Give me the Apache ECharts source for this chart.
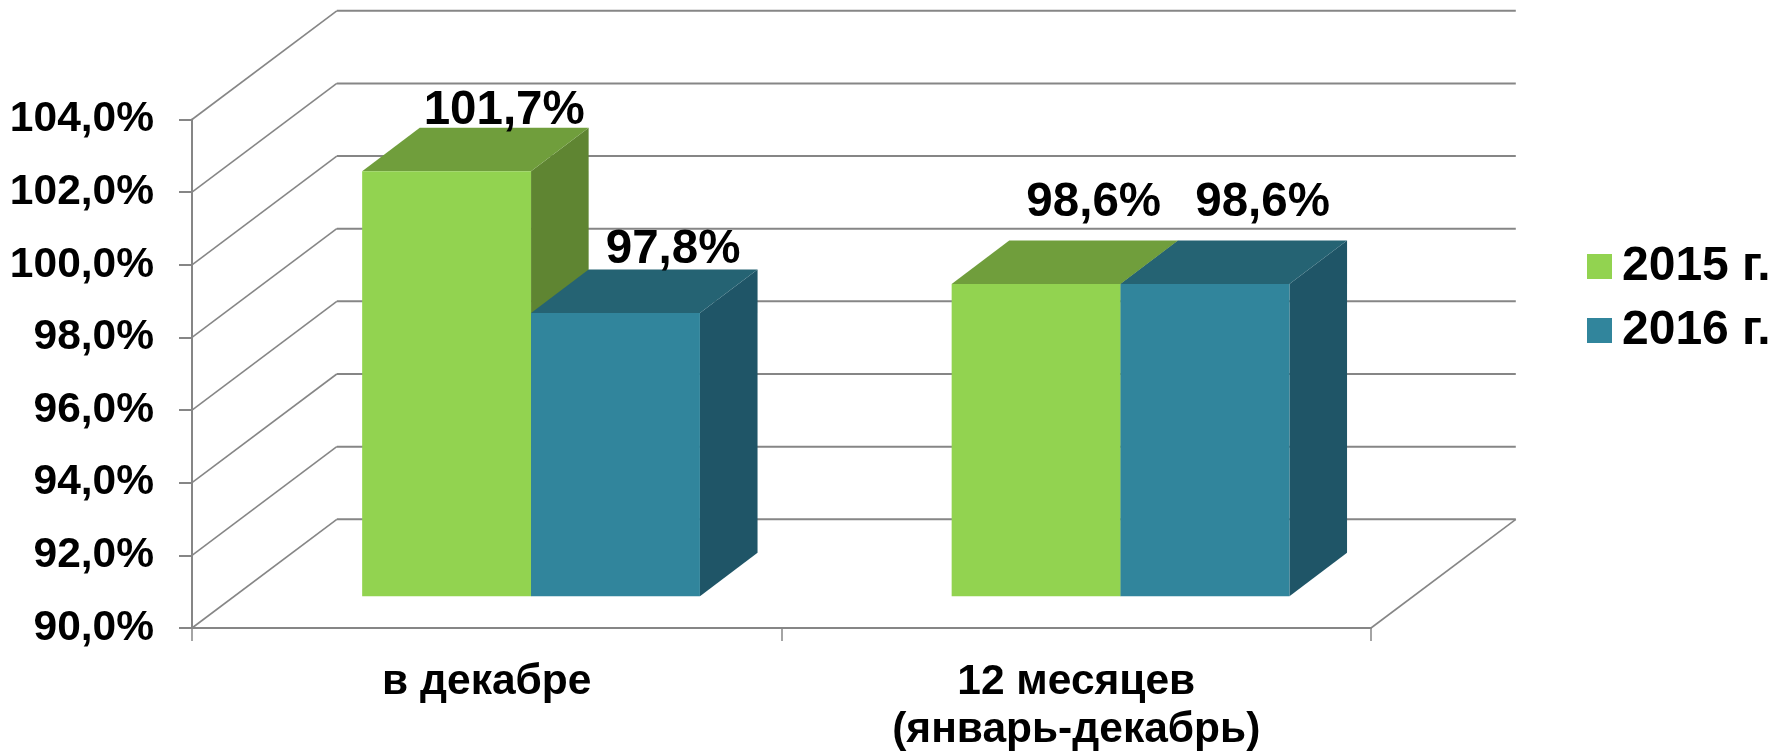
<!DOCTYPE html>
<html><head><meta charset="utf-8">
<style>html,body{margin:0;padding:0;background:#fff;overflow:hidden}#c{width:1773px;height:754px}</style>
<script src="https://cdn.jsdelivr.net/npm/echarts@6/dist/echarts.min.js"></script>
</head><body><div id="c"></div>
<script>
const categories = ['в декабре', '12 месяцев\n(январь-декабрь)'];
const seriesNames = ['2015 г.', '2016 г.'];
const values2015 = [101.7, 98.6];
const values2016 = [97.8, 98.6];
const yTicks = [90, 92, 94, 96, 98, 100, 102, 104];

// 3D projection styling
const FONT = '"Liberation Sans", Arial, sans-serif';
const WALL = {dx: 144.8, dy: 108.7};
const BAR = {shiftX: 44.3, shiftY: 31.7, widthRatio: 0.2865, dx: 57.6, dy: 43.5};
const LABEL_LIFT = [[17, 37.5], [20, 37.5]];
const PALETTE = [
  {front: '#92D350', top: '#709E3C', side: '#5F8532'},
  {front: '#31859C', top: '#256373', side: '#1F5567'}
];
const GRID_COLOR = '#868686';
const fmt = v => v.toFixed(1).replace('.', ',') + '%';

function wallItem(params, api) {
  const cs = params.coordSys;
  const y = api.coord([0, api.value(1)])[1];
  const l = cs.x, r = cs.x + cs.width;
  const children = [
    {type: 'polyline', shape: {points: [[l, y], [l + WALL.dx, y - WALL.dy]]},
     style: {stroke: GRID_COLOR, lineWidth: 1.6, fill: null}},
    {type: 'line', shape: {x1: l + WALL.dx, y1: y - WALL.dy, x2: r + WALL.dx, y2: y - WALL.dy},
     style: {stroke: GRID_COLOR, lineWidth: 2}}
  ];
  if (params.dataIndex === 0) {
    children.push({type: 'polyline', shape: {points: [[r, y], [r + WALL.dx, y - WALL.dy]]},
      style: {stroke: GRID_COLOR, lineWidth: 1.6, fill: null}});
  }
  return {type: 'group', children};
}

function barRenderer(seriesIndex) {
  const pal = PALETTE[seriesIndex];
  return function (params, api) {
    const i = api.value(0), v = api.value(1);
    const band = api.size([1, 0])[0];
    const w = band * BAR.widthRatio;
    const top = api.coord([i, v]);
    const base = api.coord([i, 90]);
    const x0 = top[0] + BAR.shiftX + (seriesIndex - 1) * w;
    const x1 = x0 + w;
    const yT = top[1] - BAR.shiftY, yB = base[1] - BAR.shiftY;
    const d = BAR.dx, e = BAR.dy;
    return {type: 'group', children: [
      {type: 'polygon', shape: {points: [[x1, yT], [x1 + d, yT - e], [x1 + d, yB - e], [x1, yB]]},
       style: {fill: pal.side}},
      {type: 'polygon', shape: {points: [[x0, yT], [x0 + d, yT - e], [x1 + d, yT - e], [x1, yT]]},
       style: {fill: pal.top}},
      {type: 'rect', shape: {x: x0, y: yT, width: w, height: yB - yT}, style: {fill: pal.front}},
      {type: 'text', x: (x0 + x1) / 2 + d, y: yT - e - LABEL_LIFT[seriesIndex][i],
       style: {text: fmt(v), font: 'bold 47.5px ' + FONT, fill: '#000',
               textAlign: 'center', textVerticalAlign: 'middle'}}
    ]};
  };
}

const chart = echarts.init(document.getElementById('c'), null, {renderer: 'canvas'});
chart.setOption({
  animation: false,
  backgroundColor: '#fff',
  legend: {
    orient: 'vertical', left: 1587, top: 239.5, itemWidth: 25, itemHeight: 25, itemGap: 10,
    icon: 'rect', data: seriesNames, selectedMode: false,
    textStyle: {fontFamily: FONT, fontWeight: 'bold', fontSize: 48, lineHeight: 48, color: '#000', padding: [6, 0, 0, 5]},
    padding: 0
  },
  grid: {left: 192, right: 402, top: 119.5, bottom: 123, containLabel: false},
  xAxis: {
    type: 'category', data: categories, boundaryGap: true,
    axisLine: {lineStyle: {color: GRID_COLOR, width: 2}},
    axisTick: {show: true, alignWithLabel: false, length: 13, lineStyle: {color: GRID_COLOR, width: 1.5}},
    axisLabel: {interval: 0, margin: 31, fontFamily: FONT, fontWeight: 'bold', fontSize: 42.5, lineHeight: 47.5, color: '#000'}
  },
  yAxis: {
    type: 'value', min: 90, max: 104, interval: 2,
    axisLine: {show: true, lineStyle: {color: GRID_COLOR, width: 2}},
    axisTick: {show: true, length: 13, lineStyle: {color: GRID_COLOR, width: 2}},
    splitLine: {show: false},
    axisLabel: {margin: 38, padding: [7, 0, 0, 0], formatter: fmt, fontFamily: FONT, fontWeight: 'bold', fontSize: 42.5, color: '#000'}
  },
  series: [
    {type: 'custom', name: 'wall', silent: true, renderItem: wallItem, encode: {x: 0, y: 1},
     data: yTicks.map(v => [0, v]), z: 1},
    {type: 'custom', name: seriesNames[0], renderItem: barRenderer(0), encode: {x: 0, y: 1},
     itemStyle: {color: PALETTE[0].front}, data: values2015.map((v, i) => [i, v]), z: 3},
    {type: 'custom', name: seriesNames[1], renderItem: barRenderer(1), encode: {x: 0, y: 1},
     itemStyle: {color: PALETTE[1].front}, data: values2016.map((v, i) => [i, v]), z: 4}
  ]
});
</script></body></html>
